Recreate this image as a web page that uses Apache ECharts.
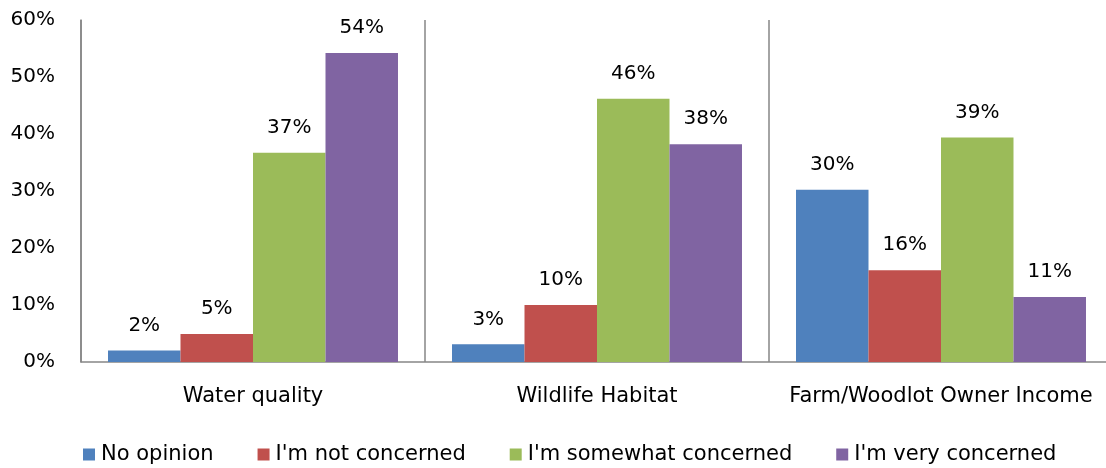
<!DOCTYPE html>
<html>
<head>
<meta charset="utf-8">
<script src="https://cdn.jsdelivr.net/npm/echarts@6/dist/echarts.min.js"></script>
<style>
html,body{margin:0;padding:0;background:#fff;}
#chart{width:1106px;height:468px;}
</style>
</head>
<body>
<div id="chart"></div>
<script>
const categories = ['Water quality', 'Wildlife Habitat', 'Farm/Woodlot Owner Income'];
const seriesNames = ['No opinion', "I'm not concerned", "I'm somewhat concerned", "I'm very concerned"];
const noOpinion = [2.0, 3.1, 30.2];
const notConcerned = [4.9, 10.0, 16.1];
const somewhatConcerned = [36.7, 46.2, 39.4];
const veryConcerned = [54.2, 38.2, 11.4];
const yTicks = [0, 10, 20, 30, 40, 50, 60];
const colors = ['#4F81BD', '#C0504D', '#9BBB59', '#8064A2'];

const FONT = 'DejaVu Sans';
const seriesData = [noOpinion, notConcerned, somewhatConcerned, veryConcerned];

const chart = echarts.init(document.getElementById('chart'));
chart.setOption({
  animation: false,
  textStyle: { fontFamily: FONT },
  legend: {
    bottom: -2,
    left: 78,
    itemWidth: 12,
    itemHeight: 12,
    itemGap: 44,
    icon: 'rect',
    textStyle: { fontFamily: FONT, fontSize: 21, color: '#000', padding: [0, 0, 0, 1] },
    data: seriesNames
  },
  grid: { left: 81, top: 20, width: 1032, bottom: 106, containLabel: false, outerBoundsMode: 'none' },
  xAxis: {
    type: 'category',
    data: categories,
    axisLine: { lineStyle: { color: '#868686', width: 1.5 } },
    axisTick: { show: false },
    splitLine: { show: true, interval: 0, lineStyle: { color: '#868686', width: 1.5 } },
    axisLabel: { interval: 0, fontFamily: FONT, fontSize: 21, color: '#000', margin: 24 }
  },
  yAxis: {
    type: 'value',
    min: yTicks[0],
    max: yTicks[yTicks.length - 1],
    interval: 10,
    axisLine: { show: true, lineStyle: { color: '#868686', width: 1.5 } },
    axisTick: { show: false },
    splitLine: { show: false },
    axisLabel: { fontFamily: FONT, fontSize: 20, color: '#000', margin: 26, formatter: v => v + '%' }
  },
  series: seriesNames.map((name, i) => ({
    name: name,
    type: 'bar',
    data: seriesData[i],
    barGap: '0%',
    barCategoryGap: '15.7%',
    itemStyle: { color: colors[i] },
    label: {
      show: true,
      position: 'top',
      distance: 15,
      fontFamily: FONT,
      fontSize: 20,
      color: '#000',
      formatter: p => Math.round(p.value) + '%'
    }
  }))
});
</script>
</body>
</html>
